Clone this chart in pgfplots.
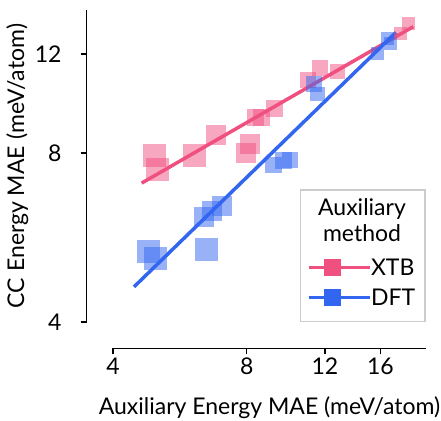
\documentclass[border=0pt]{standalone}
\usepackage{fontspec}
\setmainfont{Lato}
\usepackage{pgfplots}
\usepackage{pgfplotstable}
\pgfplotsset{compat=1.18}
\definecolor{xtb}{RGB}{240,80,127}
\definecolor{dft}{RGB}{51,102,240}
\newcommand\myfont{\fontsize{23bp}{27.6bp}\selectfont}

\pgfplotstableread{
x y h
4.955 7.925 11.5
5.038 7.477 11.5
6.097 7.925 11.5
6.823 8.614 10
7.971 8.01 10
8.138 8.311 10
8.365 9.262 8.5
8.647 9.247 8.5
9.230 9.61 8.5
10.976 10.779 8
11.716 11.351 8
12.796 11.153 7.5
17.80 13.07 6.5
18.49 13.62 6.5
}\xtbdata

\pgfplotstableread{
x y h
4.803 5.346 11.5
4.981 5.194 11.5
6.488 5.39 11.5
6.412 6.161 10
6.672 6.307 10
7.027 6.437 10
9.183 7.616 8.5
9.672 7.751 8.5
10.013 7.774 8.5
11.358 10.63 8
11.559 10.19 7.5
15.78 12.04 6.5
16.62 12.81 6.5
16.90 12.51 6.5
}\dftdata

\begin{document}
\begin{tikzpicture}
\useasboundingbox (0,0) rectangle (441bp,421bp);
% x spine
\begin{axis}[xmode=log, ymode=log, xmin=4, xmax=20.27, ymin=4, ymax=14.38,
  scale only axis, width=313bp, height=312bp, anchor=south west,
  at={(113bp,72.7bp)},
  axis x line*=bottom, axis y line=none,
  x axis line style={black, line width=1.5bp, -},
  xtick={4,8,12,16}, xticklabels={4,8,12,16}, minor xtick={},
  tick align=outside, major tick length=6bp,
  xtick style={black, line width=1.5bp},
  xticklabel style={font=\myfont, anchor=base, yshift=-20bp},
  xlabel={Auxiliary Energy MAE (meV/atom)},
  xlabel style={font=\myfont, at={(axis description cs:0.5,0)}, anchor=base, yshift=-66.7bp}]
\addplot[draw=none] coordinates {(5,5)};
\end{axis}
% y spine
\begin{axis}[xmode=log, ymode=log, xmin=4, xmax=20.27, ymin=4, ymax=14.38,
  scale only axis, width=313bp, height=312bp, anchor=south west,
  at={(86.7bp,99bp)},
  axis y line*=left, axis x line=none,
  y axis line style={black, line width=1.5bp, -},
  ytick={4,8,12}, yticklabels={4,8,12}, minor ytick={},
  tick align=outside, major tick length=6bp,
  ytick style={black, line width=1.5bp},
  yticklabel style={font=\myfont, anchor=east, inner sep=0pt, xshift=-19bp},
  ylabel={CC Energy MAE (meV/atom)},
  ylabel style={font=\myfont, at={(axis description cs:-0.2003,0.5)}, anchor=base}]
\addplot[draw=none] coordinates {(5,5)};
\end{axis}
% data
\begin{axis}[xmode=log, ymode=log, xmin=4, xmax=20.27, ymin=4, ymax=14.38,
  scale only axis, width=313bp, height=312bp, anchor=south west,
  at={(113bp,99bp)}, axis lines=none, xtick=\empty, ytick=\empty, clip=false,
  legend style={draw=none, fill=none, inner sep=0pt, outer sep=0pt,
    at={(0.6198,0.1266)}, anchor=west, row sep=14bp,
    nodes={font=\myfont, inner sep=0pt, text height=16.5bp, text depth=0bp}},
  legend cell align=left,
  legend image code/.code={
    \path (0bp,0bp) -- (61bp,0bp);
    \draw[#1, mark repeat=2, mark phase=2] plot coordinates {(0bp,0bp) (24bp,0bp) (48bp,0bp)};}]
\addplot[scatter, only marks, mark=square*, forget plot,
  mark options={draw opacity=0, line width=0pt},
  scatter/use mapped color={draw=xtb, draw opacity=0, fill=xtb, fill opacity=0.5},
  visualization depends on={\thisrow{h} \as \msz},
  scatter/@pre marker code/.append style={/tikz/mark size=\msz}]
  table[x=x, y=y] {\xtbdata};
\addplot[scatter, only marks, mark=square*, forget plot,
  mark options={draw opacity=0, line width=0pt},
  scatter/use mapped color={draw=dft, draw opacity=0, fill=dft, fill opacity=0.5},
  visualization depends on={\thisrow{h} \as \msz},
  scatter/@pre marker code/.append style={/tikz/mark size=\msz}]
  table[x=x, y=y] {\dftdata};
\addplot[xtb, line width=3.5bp, forget plot] coordinates {(4.64,7.07) (18.98,13.43)};
\addplot[dft, line width=3.5bp, forget plot] coordinates {(4.46,4.62) (17.35,13.12)};
\addlegendimage{xtb, line width=3bp, mark=square*, mark size=8bp, mark options={draw=xtb, line width=0pt, fill=xtb}}
\addlegendentry{XTB}
\addlegendimage{dft, line width=3bp, mark=square*, mark size=8bp, mark options={draw=dft, line width=0pt, fill=dft}}
\addlegendentry{DFT}
\end{axis}
\draw[gray!40, line width=1.5bp] (300.7bp,99.3bp) rectangle (425bp,231bp);
\node[anchor=base, font=\myfont, inner sep=0pt] at (362bp,205bp) {Auxiliary};
\node[anchor=base, font=\myfont, inner sep=0pt] at (362bp,179.3bp) {method};
\end{tikzpicture}
\end{document}
